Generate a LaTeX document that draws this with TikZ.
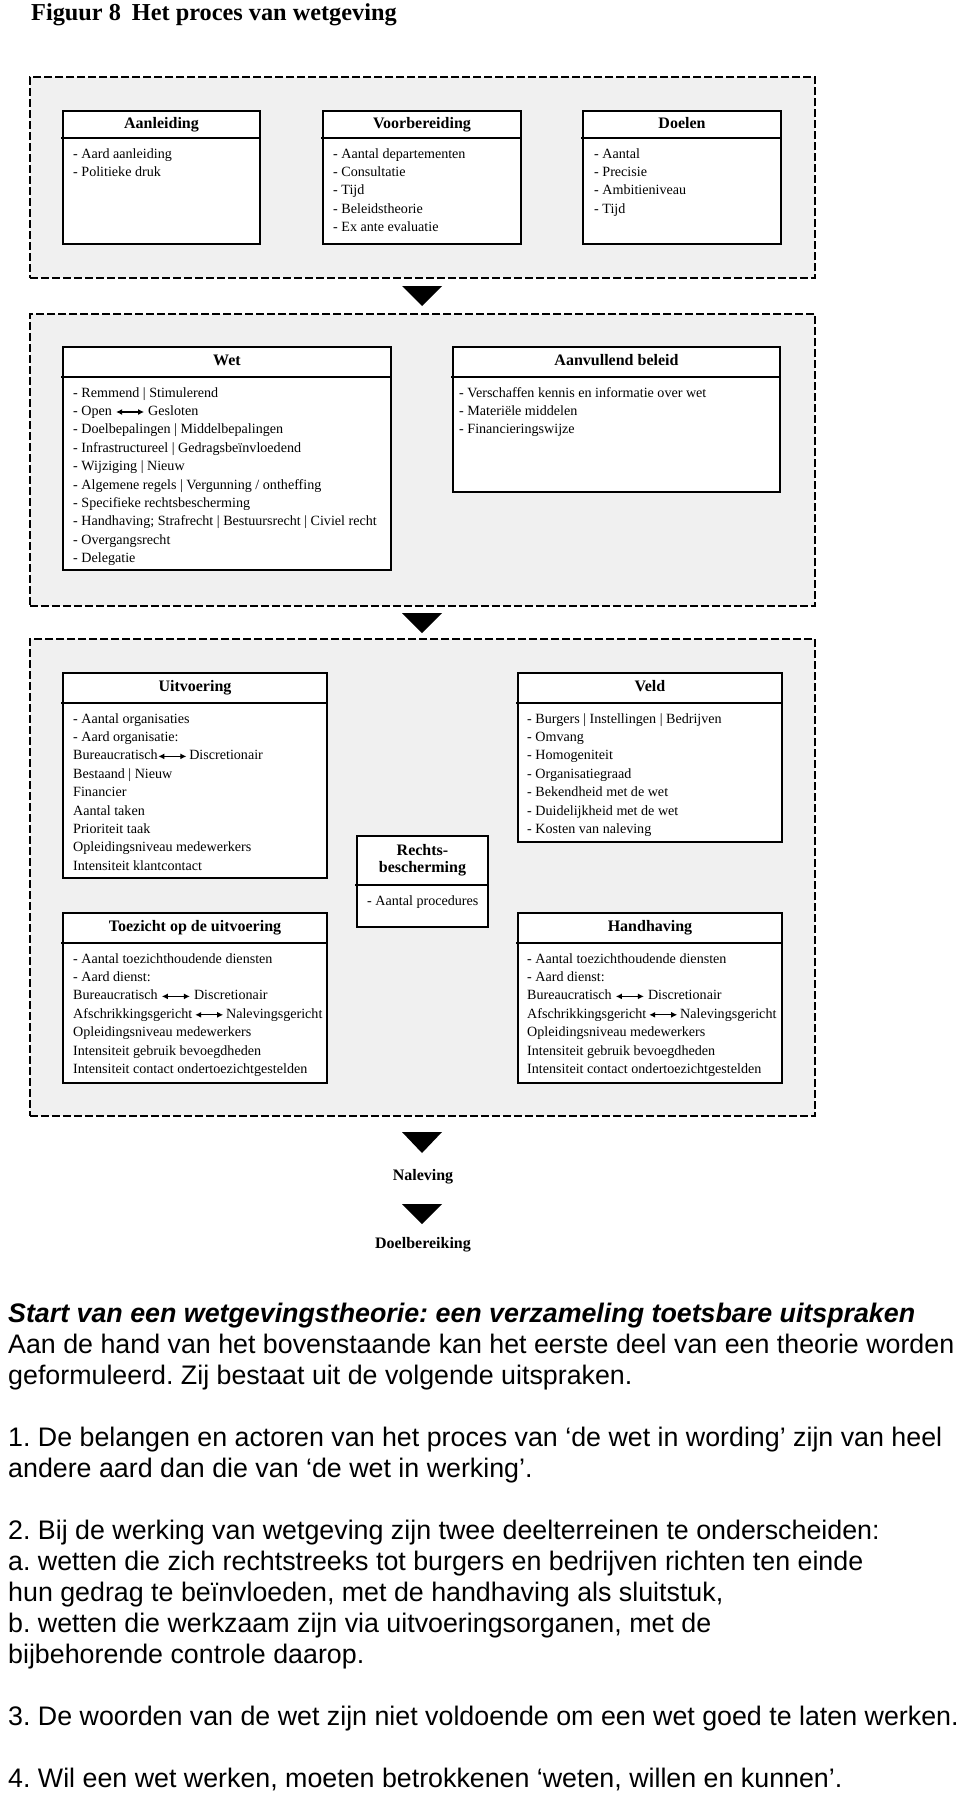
\documentclass[tikz,border=0pt]{standalone}
\usepackage{fontspec}
\setmainfont{Liberation Serif}
\newfontfamily\sansf{Liberation Sans}
\usetikzlibrary{arrows.meta,fit}
\definecolor{bggray}{HTML}{F0F0F0}
\frenchspacing
\newcommand{\darr}{\tikz[baseline={(0pt,-3.4pt)}]\draw[line width=1.2pt,{Latex[length=6pt,width=6pt]}-{Latex[length=6pt,width=6pt]}] (0pt,0pt) -- (28pt,0pt);}
\tikzset{
 group/.style={draw=black, fill=bggray, line width=1.5pt, dash pattern=on 8pt off 3pt, inner sep=0pt},
 frame/.style={draw=black, fill=white, line width=1.8pt, inner sep=0pt},
 frameline/.style={draw=black, line width=1.8pt},
 hdr/.style={font=\bfseries\fontsize{16}{17}\selectfont, inner sep=0pt, text height=11pt, text depth=3.5pt},
 hdrtwo/.style={font=\bfseries\fontsize{16}{17}\selectfont, inner sep=0pt, align=center},
 item/.style={font=\fontsize{14.1}{16}\selectfont, anchor=base west, inner sep=0pt},
 body/.style={font=\sansf\fontsize{26.8}{31}\selectfont, anchor=base west, inner sep=0pt},
 tri/.style={fill=black},
 res/.style={font=\bfseries\fontsize{16}{18}\selectfont, inner sep=0pt},
}
% name, x1, y1, x2, y2, y of header line, title, item x offset, items
\newcommand{\ubox}[9]{%
  \node[frame, fit={(#2,#3) (#4,#5)}] (#1) {};
  \draw[frameline] (#2-2,#6) -- (#4,#6);
  \node[hdr] (#1-h) at ({(#2+#4)/2},{(#3+#6)/2}) {#7};
  \foreach \myitem [count=\myidx] in {#9} {\node[item] (#1-\myidx) at ({#2+#8},{#6+20+(\myidx-1)*18.4}) {\myitem};}
}
\begin{document}
\begin{tikzpicture}[x=1pt,y=-1pt]
\useasboundingbox (0,0) rectangle (960,1796);
\fill[white] (0,0) rectangle (960,1796);

\node[anchor=base west, inner sep=0pt, font=\bfseries\fontsize{24.3}{27}\selectfont] (title) at (31,20) {Figuur 8\hspace{0.45em}Het proces van wetgeving};

% groups
\node[group, fit={(30,77) (815,278)}] (g1) {};
\node[group, fit={(30,314) (815,606)}] (g2) {};
\node[group, fit={(30,639) (815,1116)}] (g3) {};

% group 1
\ubox{aanl}{63}{111}{260}{244}{138}{Aanleiding}{10}{- Aard aanleiding, - Politieke druk}
\ubox{voorb}{323}{111}{521}{244}{138}{Voorbereiding}{10}{- Aantal departementen, - Consultatie, - Tijd, - Beleidstheorie, - Ex ante evaluatie}
\ubox{doel}{583}{111}{781}{244}{138}{Doelen}{11}{- Aantal, - Precisie, - Ambitieniveau, - Tijd}

% group 2
\ubox{wet}{63}{347}{391}{570}{377}{Wet}{10}{- Remmend | Stimulerend, - Open \darr{} Gesloten, - Doelbepalingen | Middelbepalingen, - Infrastructureel | Gedragsbeïnvloedend, - Wijziging | Nieuw, - Algemene regels | Vergunning / ontheffing, - Specifieke rechtsbescherming, - Handhaving; Strafrecht | Bestuursrecht | Civiel recht, - Overgangsrecht, - Delegatie}
\ubox{aanv}{453}{347}{780}{492}{377}{Aanvullend beleid}{6}{- Verschaffen kennis en informatie over wet, - Materiële middelen, - Financieringswijze}

% group 3
\ubox{uitv}{63}{673}{327}{878}{703}{Uitvoering}{10}{- Aantal organisaties, - Aard organisatie:, Bureaucratisch\darr{}\,Discretionair, Bestaand | Nieuw, Financier, Aantal taken, Prioriteit taak, Opleidingsniveau medewerkers, Intensiteit klantcontact}
\ubox{veld}{518}{673}{782}{842}{703}{Veld}{9}{- Burgers | Instellingen | Bedrijven, - Omvang, - Homogeniteit, - Organisatiegraad, - Bekendheid met de wet, - Duidelijkheid met de wet, - Kosten van naleving}
\ubox{recht}{357}{836}{488}{927}{885}{}{10}{- Aantal procedures}
\node[hdrtwo] (recht-t) at (422.5,860.5) {Rechts-\\bescherming};
\ubox{toez}{63}{913}{327}{1083}{943}{Toezicht op de uitvoering}{10}{- Aantal toezichthoudende diensten, - Aard dienst:, Bureaucratisch \darr{} Discretionair, Afschrikkingsgericht\,\darr\,Nalevingsgericht, Opleidingsniveau medewerkers, Intensiteit gebruik bevoegdheden, Intensiteit contact ondertoezichtgestelden}
\ubox{handh}{518}{913}{782}{1083}{943}{Handhaving}{9}{- Aantal toezichthoudende diensten, - Aard dienst:, Bureaucratisch \darr{} Discretionair, Afschrikkingsgericht\,\darr\,Nalevingsgericht, Opleidingsniveau medewerkers, Intensiteit gebruik bevoegdheden, Intensiteit contact ondertoezichtgestelden}

% arrows
\fill[tri] (402,286) -- (442,286) -- (422,306) -- cycle;
\fill[tri] (402,613) -- (442,613) -- (422,633) -- cycle;
\fill[tri] (402,1132) -- (442,1132) -- (422,1153) -- cycle;
\node[res] (nal) at (423,1177) {Naleving};
\fill[tri] (402,1204) -- (442,1204) -- (422,1224) -- cycle;
\node[res] (doelb) at (423,1245) {Doelbereiking};

% text below
\node[body] (t1) at (8,1322) {\bfseries\itshape Start van een wetgevingstheorie: een verzameling toetsbare uitspraken};
\node[body] (t2) at (8,1353) {Aan de hand van het bovenstaande kan het eerste deel van een theorie worden};
\node[body] (t3) at (8,1384) {geformuleerd. Zij bestaat uit de volgende uitspraken.};
\node[body] (t4) at (8,1446) {1. De belangen en actoren van het proces van ‘de wet in wording’ zijn van heel};
\node[body] (t5) at (8,1477) {andere aard dan die van ‘de wet in werking’.};
\node[body] (t6) at (8,1539) {2. Bij de werking van wetgeving zijn twee deelterreinen te onderscheiden:};
\node[body] (t7) at (8,1570) {a. wetten die zich rechtstreeks tot burgers en bedrijven richten ten einde};
\node[body] (t8) at (8,1601) {hun gedrag te beïnvloeden, met de handhaving als sluitstuk,};
\node[body] (t9) at (8,1632) {b. wetten die werkzaam zijn via uitvoeringsorganen, met de};
\node[body] (t10) at (8,1663) {bijbehorende controle daarop.};
\node[body] (t11) at (8,1725) {3. De woorden van de wet zijn niet voldoende om een wet goed te laten werken.};
\node[body] (t12) at (8,1787) {4. Wil een wet werken, moeten betrokkenen ‘weten, willen en kunnen’.};
\end{tikzpicture}
\end{document}
